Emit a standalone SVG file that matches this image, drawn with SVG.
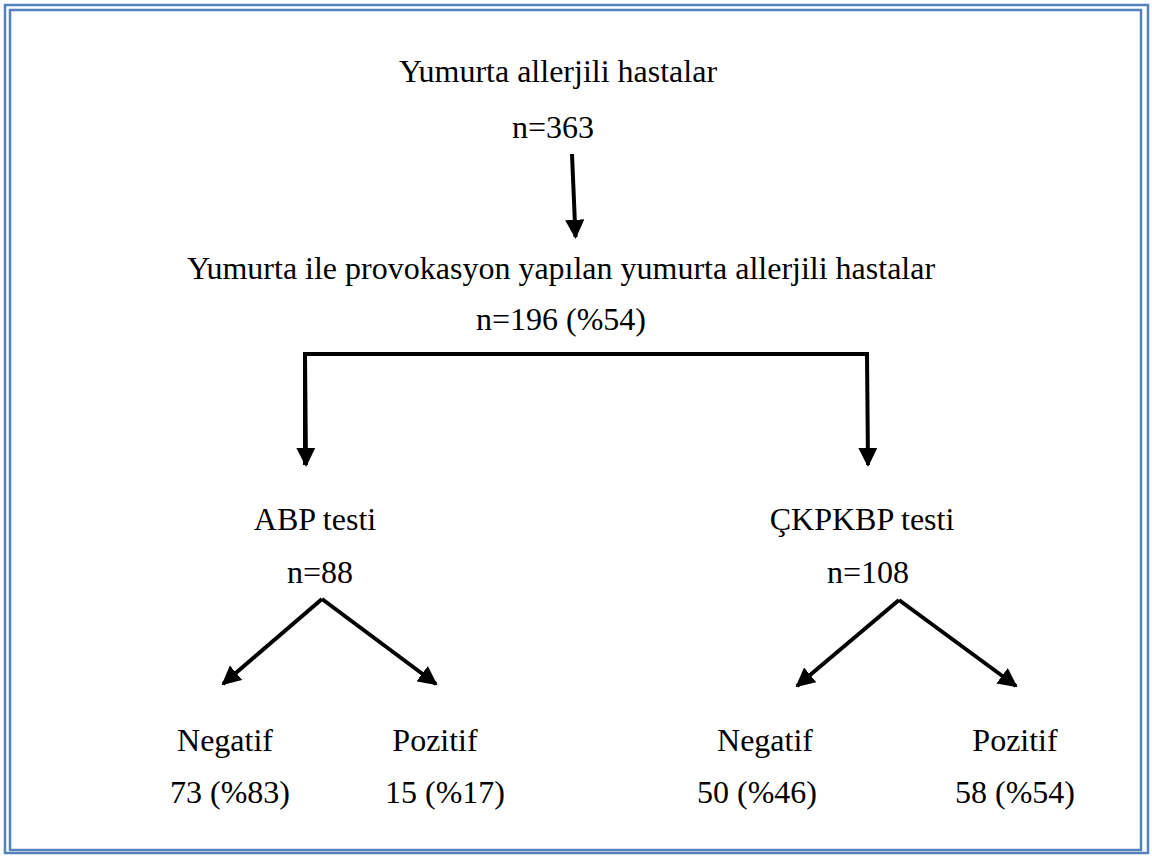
<svg xmlns="http://www.w3.org/2000/svg" width="1152" height="857" viewBox="0 0 1152 857">
<defs>
<style>
.t{font-family:"Liberation Serif","Times New Roman",serif;font-size:32px;fill:#000;text-anchor:middle}
.c{stroke:#000;stroke-width:4;fill:none}
.b{fill:none;stroke:#5681BD;stroke-width:2.5}
</style>
<marker id="ah" viewBox="0 0 10 10" refX="9" refY="5" markerWidth="4.8" markerHeight="4.8" markerUnits="strokeWidth" orient="auto">
<path d="M0,0 L10,5 L0,10 z" fill="#000"/>
</marker>
</defs>
<rect width="1152" height="857" fill="#fff"/>
<rect class="b" x="5" y="5" width="1143" height="848"/>
<rect class="b" x="10" y="10" width="1131" height="840"/>
<g id="n-root"><text class="t" x="558" y="82">Yumurta allerjili hastalar</text><text class="t" x="553" y="138">n=363</text></g>
<g id="n-prov"><text class="t" x="561" y="279">Yumurta ile provokasyon yapılan yumurta allerjili hastalar</text><text class="t" x="561" y="330">n=196 (%54)</text></g>
<g id="n-abp"><text class="t" x="315" y="530">ABP testi</text><text class="t" x="320" y="583">n=88</text></g>
<g id="n-ckp"><text class="t" x="862" y="530">ÇKPKBP testi</text><text class="t" x="868" y="583">n=108</text></g>
<g id="n-abp-neg"><text class="t" x="225" y="751">Negatif</text><text class="t" x="230" y="803">73 (%83)</text></g>
<g id="n-abp-pos"><text class="t" x="435" y="751">Pozitif</text><text class="t" x="445" y="803">15 (%17)</text></g>
<g id="n-ckp-neg"><text class="t" x="765" y="751">Negatif</text><text class="t" x="757" y="803">50 (%46)</text></g>
<g id="n-ckp-pos"><text class="t" x="1015" y="751">Pozitif</text><text class="t" x="1015" y="803">58 (%54)</text></g>
<g id="connectors">
<path class="c" d="M572,154 L575.5,237" marker-end="url(#ah)"/>
<path class="c" d="M867,354 L868,465" marker-end="url(#ah)"/>
<path class="c" d="M305,465 L305,354 L869,354" stroke-linejoin="miter"/>
<path class="c" d="M305,356 L306,465" marker-end="url(#ah)"/>
<path class="c" d="M322,599 L223,684" marker-end="url(#ah)"/>
<path class="c" d="M322,599 L436,684" marker-end="url(#ah)"/>
<path class="c" d="M899,600 L797,686" marker-end="url(#ah)"/>
<path class="c" d="M899,600 L1016,686" marker-end="url(#ah)"/>
</g>
</svg>
